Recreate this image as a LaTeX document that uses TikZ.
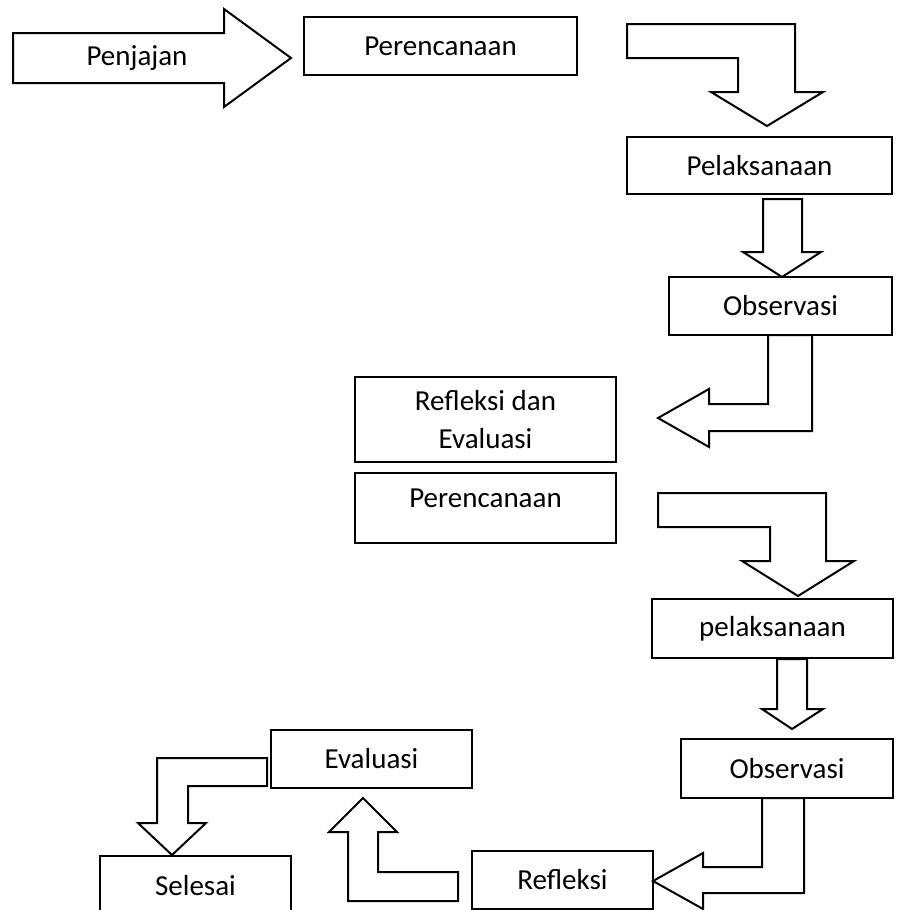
\documentclass[tikz,border=0pt]{standalone}
\usepackage{fontspec}
\setmainfont{Carlito}

\begin{document}
\begin{tikzpicture}[
    x=0.5pt, y=-0.5pt,
    line width=1pt,
    stepbox/.style={draw, rectangle, inner sep=0pt, align=center, font=\fontsize{14.5}{19}\selectfont},
    blockarrow/.style={draw, line join=miter, fill=white},
    label/.style={inner sep=0pt, font=\fontsize{14.5}{19}\selectfont}
]
\clip (0,0) rectangle (896,910);

% Start
\draw[blockarrow] (13,33) -- (224,33) -- (224,9) -- (291,58) -- (224,107) -- (224,83) -- (13,83) -- cycle;
\node[label] (start) at (137,58) {Penjajan};

% Cycle 1
\node[stepbox, minimum width=136.5pt, minimum height=29pt] (plan1) at (440.5,46) {Perencanaan};
\node[stepbox, minimum width=132.5pt, minimum height=28.5pt] (act1) at (759.5,165.5) {Pelaksanaan};
\node[stepbox, minimum width=111.5pt, minimum height=29pt] (obs1) at (780.5,306) {Observasi};
\node[stepbox, minimum width=130.5pt, minimum height=42.5pt] (refl1) at (485.5,419.5) {Refleksi dan\\ Evaluasi};

\draw[blockarrow] (627,24) -- (795,24) -- (795,92) -- (823,92) -- (767,126) -- (711,92) -- (738,92) -- (738,58) -- (627,58) -- cycle;
\draw[blockarrow] (763,199) -- (802,199) -- (802,252) -- (821,252) -- (782,277) -- (743,252) -- (763,252) -- cycle;
\draw[blockarrow] (768,335) -- (812,335) -- (812,431) -- (709,431) -- (709,447) -- (658,418) -- (709,389) -- (709,404) -- (768,404) -- cycle;

% Cycle 2
\node[stepbox, minimum width=130.5pt, minimum height=35pt, text depth=10pt] (plan2) at (485.5,508) {Perencanaan};
\node[stepbox, minimum width=120.5pt, minimum height=29.5pt] (act2) at (772.5,628.5) {pelaksanaan};
\node[stepbox, minimum width=106pt, minimum height=29.5pt] (obs2) at (787,768.5) {Observasi};
\node[stepbox, minimum width=90.5pt, minimum height=29pt] (refl2) at (562.5,880) {Refleksi};
\node[stepbox, minimum width=100.5pt, minimum height=29pt] (eval) at (371.5,759) {Evaluasi};
\node[stepbox, minimum width=95.5pt, minimum height=30pt] (done) at (195.5,886) {Selesai};

\draw[blockarrow] (658,493) -- (826,493) -- (826,561) -- (854,561) -- (798,596) -- (742,561) -- (770,561) -- (770,527) -- (658,527) -- cycle;
\draw[blockarrow] (777,659) -- (807,659) -- (807,709) -- (823,709) -- (792,729) -- (762,709) -- (777,709) -- cycle;
\draw[blockarrow] (762,798) -- (804,798) -- (804,893) -- (703,893) -- (703,909) -- (653,881) -- (703,853) -- (703,867) -- (762,867) -- cycle;
\draw[blockarrow] (458,872) -- (458,901) -- (348,901) -- (348,832) -- (329,832) -- (363,798) -- (397,832) -- (378,832) -- (378,872) -- cycle;
\draw[blockarrow] (267,758) -- (267,786) -- (188,786) -- (188,823) -- (206,823) -- (172,855) -- (138,823) -- (157,823) -- (157,758) -- cycle;

\end{tikzpicture}
\end{document}
